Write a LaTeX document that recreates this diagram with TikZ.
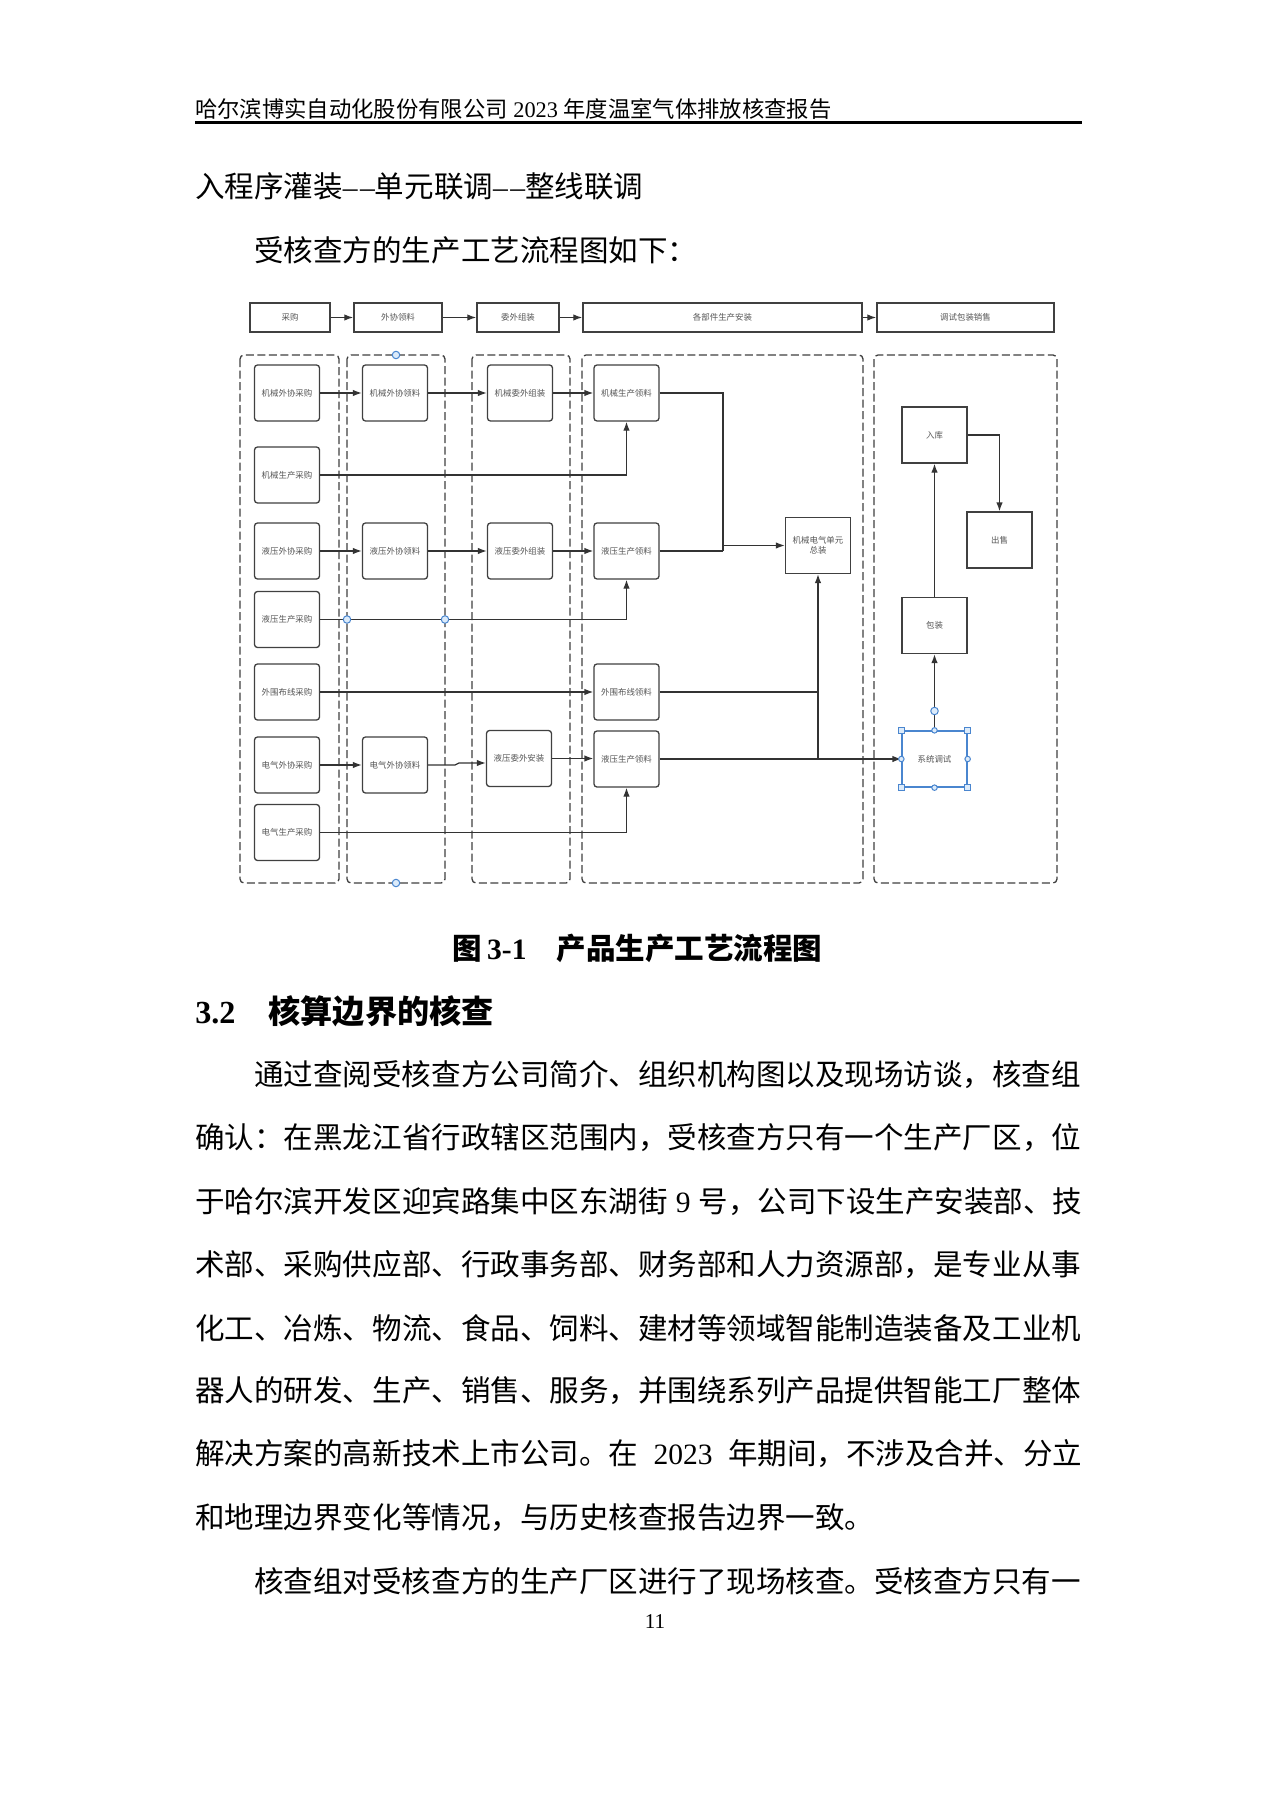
\documentclass[tikz,border=0pt]{standalone}
\usepackage{fontspec}
\setmainfont{Liberation Serif}
\newfontfamily\cjk{Noto Sans CJK SC}
\usetikzlibrary{arrows.meta}
\XeTeXlinebreaklocale "zh"
\XeTeXlinebreakskip=0pt plus 1pt

\definecolor{linegray}{HTML}{333333}
\definecolor{boxgray}{HTML}{404040}
\definecolor{txtgray}{HTML}{555555}
\definecolor{selblue}{HTML}{4A86CF}
\definecolor{selfill}{HTML}{DCEBFA}

\newcommand{\diagfont}{\cjk\fontsize{4.8}{5.8}\selectfont}
\newcommand{\bodyfont}{\cjk\fontsize{16.8}{20}\selectfont}
\newcommand{\headfont}{\cjk\fontsize{12.7}{15}\selectfont}
\newcommand{\lat}[1]{{\rmfamily #1}}
\newcommand{\dashpair}{\lat{\textendash\hspace{0.5mm}\textendash}}
\newcommand{\fullline}[1]{\hbox to 177.4mm{#1}}
\newcommand{\indline}[1]{\hbox to 165.6mm{#1}}

\tikzset{
  lane/.style={draw=boxgray, line width=0.26mm, dash pattern=on 1.6mm off 0.7mm, rounded corners=0.8mm},
  topbox/.style={draw=boxgray, line width=0.3mm, minimum height=5.8mm, inner sep=0pt, font=\diagfont, text=txtgray},
  pbox/.style={draw=boxgray, line width=0.26mm, rounded corners=0.6mm, minimum width=13mm, minimum height=11.2mm, inner sep=0pt, font=\diagfont, text=txtgray, align=center},
  sbox/.style={pbox, rounded corners=0pt},
  flow/.style={draw=linegray, line width=0.26mm, -{Latex[length=1.8mm,width=1.3mm]}},
  link/.style={draw=linegray, line width=0.26mm},
  handle/.style={circle, draw=selblue, fill=selfill, line width=0.2mm, inner sep=0pt, minimum size=1.5mm},
  sqhandle/.style={rectangle, draw=selblue, fill=selfill, line width=0.2mm, inner sep=0pt, minimum size=1.2mm},
  bodyline/.style={anchor=west, inner sep=0pt, font=\bodyfont}
}

\begin{document}
\begin{tikzpicture}[x=0.2mm, y=-0.2mm]
  \useasboundingbox[fill=white] (0,0) rectangle (1274,1801);

  % --- page header ---
  \node[anchor=west, inner sep=0pt, font=\headfont] (head) at (195,109)
    {哈尔滨博实自动化股份有限公司\lat{ 2023 }年度温室气体排放核查报告};
  \draw[line width=0.6mm] (195,123) -- (1082,123);

  % --- text above the figure ---
  \node[bodyline] (t1) at (195,186)
    {入程序灌装\dashpair 单元联调\dashpair 整线联调};
  \node[bodyline] (t2) at (254,250) {受核查方的生产工艺流程图如下：};

  % --- stage row ---
  \node[topbox, minimum width=16mm]   (cg)   at (290,317.5)   {采购};
  \node[topbox, minimum width=17.6mm] (wxll) at (398,317.5)   {外协领料};
  \node[topbox, minimum width=16.4mm] (wwzz) at (518,317.5)   {委外组装};
  \node[topbox, minimum width=55.8mm] (gbj)  at (722.5,317.5) {各部件生产安装};
  \node[topbox, minimum width=35.4mm] (tsbz) at (965.5,317.5) {调试包装销售};
  \draw[flow] (cg) -- (wxll);
  \draw[flow] (wxll) -- (wwzz);
  \draw[flow] (wwzz) -- (gbj);
  \draw[flow] (gbj) -- (tsbz);

  % --- dashed lanes ---
  \draw[lane] (240,355) rectangle (339,883);
  \draw[lane] (347,355) rectangle (445,883);
  \draw[lane] (472,355) rectangle (570,883);
  \draw[lane] (582,355) rectangle (863,883);
  \draw[lane] (874,355) rectangle (1057,883);

  % --- purchasing ---
  \node[pbox] (jxwxcg) at (287,393)   {机械外协采购};
  \node[pbox] (jxsccg) at (287,475)   {机械生产采购};
  \node[pbox] (yywxcg) at (287,551)   {液压外协采购};
  \node[pbox] (yysccg) at (287,619.5) {液压生产采购};
  \node[pbox] (wwbxcg) at (287,692)   {外围布线采购};
  \node[pbox] (dqwxcg) at (287,765)   {电气外协采购};
  \node[pbox] (dqsccg) at (287,832.5) {电气生产采购};

  % --- outsourced material ---
  \node[pbox] (jxwxll) at (395,393) {机械外协领料};
  \node[pbox] (yywxll) at (395,551) {液压外协领料};
  \node[pbox] (dqwxll) at (395,765) {电气外协领料};

  % --- outsourced assembly ---
  \node[pbox] (jxwwzz) at (520,393)   {机械委外组装};
  \node[pbox] (yywwzz) at (520,551)   {液压委外组装};
  \node[pbox] (yywwaz) at (519,758.5) {液压委外安装};

  % --- production ---
  \node[pbox] (jxscll)  at (626.5,393) {机械生产领料};
  \node[pbox] (yyscll)  at (626.5,551) {液压生产领料};
  \node[pbox] (wwbxll)  at (626.5,692) {外围布线领料};
  \node[pbox] (yyscll2) at (626.5,759) {液压生产领料};
  \node[sbox] (zz)      at (818,545.5) {机械电气单元\\总装};

  % --- test, pack, sale ---
  \node[sbox] (rk) at (934.5,435)   {入库};
  \node[sbox] (cs) at (999.5,540)   {出售};
  \node[sbox] (bz) at (934.5,625.5) {包装};
  \node[sbox, draw=selblue] (xtts) at (934.5,759) {系统调试};

  % --- flows ---
  \draw[flow] (jxwxcg) -- (jxwxll);
  \draw[flow] (jxwxll) -- (jxwwzz);
  \draw[flow] (jxwwzz) -- (jxscll);
  \draw[flow] (jxsccg.east) -| (jxscll.south);
  \draw[flow] (yywxcg) -- (yywxll);
  \draw[flow] (yywxll) -- (yywwzz);
  \draw[flow] (yywwzz) -- (yyscll);
  \draw[flow] (yysccg.east) -| (yyscll.south);
  \draw[flow] (wwbxcg) -- (wwbxll);
  \draw[flow] (dqwxcg) -- (dqwxll);
  \coordinate (kink) at (459,763);
  \draw[flow] (dqwxll.east) -- (455,765) -- (kink) -- (kink -| yywwaz.west);
  \draw[flow] (yywwaz) -- (yywwaz.east -| yyscll2.west);
  \draw[flow] (dqsccg.east) -| (yyscll2.south);

  \coordinate (j1) at (723,551);
  \draw[link] (jxscll.east) -| (j1);
  \draw[link] (yyscll.east) -- (j1);
  \draw[flow] (j1 |- zz.west) -- (zz.west);
  \draw[link] (wwbxll.east) -- (wwbxll.east -| zz.south);
  \draw[flow] (yyscll2.east) -- (xtts.west);
  \draw[flow] (zz.south |- xtts.west) -- (zz.south);

  \draw[flow] (xtts.north) -- (bz.south);
  \draw[flow] (bz.north) -- (rk.south);
  \draw[flow] (rk.east) -| (cs.north);

  % --- selection handles ---
  \node[handle] (h1) at (396,355) {};
  \node[handle] (h2) at (396,883) {};
  \node[handle] (h3) at (347,619.5) {};
  \node[handle] (h4) at (445,619.5) {};
  \node[handle] (h5) at (934.5,711) {};
  \foreach \a in {north west, north east, south west, south east}
    \node[sqhandle] at (xtts.\a) {};
  \foreach \a in {north, south, west, east}
    \node[handle, minimum size=1.1mm] at (xtts.\a) {};

  % --- caption and section ---
  \node[inner sep=0pt, font=\bodyfont\bfseries] (cap) at (637.5,948)
    {图\hspace{1mm}\lat{3-1}\hspace{6mm}产品生产工艺流程图};
  \node[bodyline, font=\cjk\fontsize{18.3}{22}\selectfont\bfseries] (sec) at (195,1011)
    {\lat{3.2}\hspace{6.6mm}核算边界的核查};

  % --- paragraph ---
  \node[bodyline] (p1) at (254,1075) {\indline{通过查阅受核查方公司简介、组织机构图以及现场访谈，核查组}};
  \node[bodyline] (p2) at (195,1138) {\fullline{确认：在黑龙江省行政辖区范围内，受核查方只有一个生产厂区，位}};
  \node[bodyline] (p3) at (195,1202) {\fullline{于哈尔滨开发区迎宾路集中区东湖街\lat{ 9 }号，公司下设生产安装部、技}};
  \node[bodyline] (p4) at (195,1265) {\fullline{术部、采购供应部、行政事务部、财务部和人力资源部，是专业从事}};
  \node[bodyline] (p5) at (195,1328) {\fullline{化工、冶炼、物流、食品、饲料、建材等领域智能制造装备及工业机}};
  \node[bodyline] (p6) at (195,1391) {\fullline{器人的研发、生产、销售、服务，并围绕系列产品提供智能工厂整体}};
  \node[bodyline] (p7) at (195,1454) {\fullline{解决方案的高新技术上市公司。在\lat{ 2023 }年期间，不涉及合并、分立}};
  \node[bodyline] (p8) at (195,1518) {和地理边界变化等情况，与历史核查报告边界一致。};
  \node[bodyline] (p9) at (254,1581) {\indline{核查组对受核查方的生产厂区进行了现场核查。受核查方只有一}};

  \node[inner sep=0pt, font=\fontsize{12}{14}\selectfont] (pg) at (655,1622) {11};
\end{tikzpicture}
\end{document}
